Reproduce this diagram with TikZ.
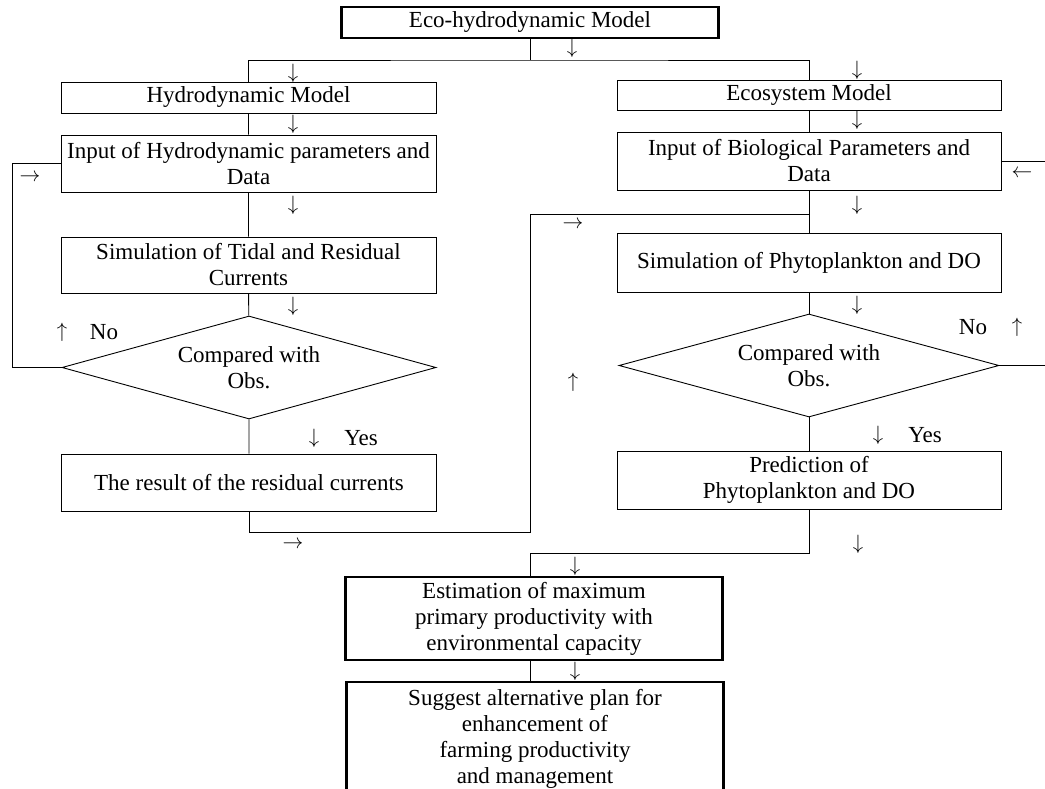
\documentclass[tikz,border=0pt]{standalone}
\usepackage{fontspec}
\setmainfont{Liberation Serif}
\usetikzlibrary{shapes.geometric}

\begin{document}
\begin{tikzpicture}[x=1pt,y=-1pt,line width=0.9pt,font=\fontsize{23}{26}\selectfont]
  \tikzstyle{block} = [draw, minimum width=375pt, inner sep=2pt, align=center];
  \tikzstyle{bigblock} = [draw, line width=2.2pt, minimum width=377pt, inner sep=2pt, align=center];
  \tikzstyle{decide} = [diamond, draw, aspect=3.6, inner sep=0pt, align=center, minimum width=374pt, minimum height=103pt];
  \tikzstyle{arr} = [inner sep=0pt, font=\fontsize{21}{21}\selectfont];
  \tikzstyle{lbl} = [inner sep=0pt];

  \useasboundingbox (0,0) rectangle (1045,789);

  \node[bigblock, minimum height=31pt] (top) at (530,22.5) {Eco-hydrodynamic Model};

  % left column
  \node[block, minimum height=31pt] (hydro) at (248.5,97.5) {Hydrodynamic Model};
  \node[block, minimum height=57pt] (inhydro) at (248.5,163.5) {Input of Hydrodynamic parameters and\\Data};
  \node[block, minimum height=56pt] (simtide) at (248.5,265) {Simulation of Tidal and Residual\\Currents};
  \node[decide] (cmpL) at (249,367.5) {Compared with\\Obs.};
  \node[block, minimum height=57pt] (result) at (249,482.5) {The result of the residual currents};

  % right column
  \node[block, minimum width=384pt, minimum height=30pt] (eco) at (809,95) {Ecosystem Model};
  \node[block, minimum width=384pt, minimum height=58pt] (inbio) at (809,161) {Input of Biological Parameters and\\Data};
  \node[block, minimum width=384pt, minimum height=59pt] (simphy) at (809,262.5) {Simulation of Phytoplankton and DO};
  \node[decide, minimum width=380pt] (cmpR) at (809,365.5) {Compared with\\Obs.};
  \node[block, minimum width=384pt, minimum height=58pt] (pred) at (809,480) {Prediction of\\Phytoplankton and DO};

  % bottom
  \node[bigblock, minimum height=83pt] (est) at (534,618.5) {Estimation of maximum\\primary productivity with\\environmental capacity};
  \node[bigblock, minimum height=114pt] (sugg) at (535,739) {Suggest alternative plan for\\enhancement of\\farming productivity\\and management};

  \coordinate (split) at (530,60);
  \coordinate (fbL) at (12,0);
  \coordinate (fbR) at (1047,0);
  \coordinate (res1) at (530,532);
  \coordinate (res2) at (530,214);
  \coordinate (pre1) at (530,553);

  \draw (top.south) -- (split);
  \draw (hydro.north) |- (split) -| (eco.north);
  \draw (hydro) -- (inhydro) -- (simtide) -- (cmpL) -- (result);
  \draw (eco) -- (inbio) -- (simphy) -- (cmpR) -- (pred);
  \draw (cmpL.west) -| (fbL |- inhydro.west) -- (inhydro.west);
  \draw (cmpR.east) -| (fbR |- inbio.east) -- (inbio.east);
  \draw (result.south) |- (res1) -- (res2) -- (res2 -| simphy.north);
  \draw (pred.south) |- (pre1) -- (pre1 |- est.north);
  \draw (pre1 |- est.south) -- (pre1 |- sugg.north);

  % arrow marks
  \node[arr] (dtop) at (572,48) {$\downarrow$};
  \node[arr] (dl1) at (293,73) {$\downarrow$};
  \node[arr] (dl2) at (293,124) {$\downarrow$};
  \node[arr] (dl3) at (293,205) {$\downarrow$};
  \node[arr] (dl4) at (293,306) {$\downarrow$};
  \node[arr] (dyesL) at (314,438) {$\downarrow$};
  \node[lbl] (yesL) at (361,438) {Yes};
  \node[arr] (unoL) at (62,332) {$\uparrow$};
  \node[lbl] (noL) at (104,332) {No};
  \node[arr] (rfbL) at (30,178) {$\rightarrow$};
  \node[arr] (rres) at (293,545) {$\rightarrow$};
  \node[arr] (dr1) at (857,70) {$\downarrow$};
  \node[arr] (dr2) at (857,120) {$\downarrow$};
  \node[arr] (dr3) at (857,205) {$\downarrow$};
  \node[arr] (dr4) at (857,305) {$\downarrow$};
  \node[arr] (dyesR) at (878,435) {$\downarrow$};
  \node[lbl] (yesR) at (925,435) {Yes};
  \node[lbl] (noR) at (973,327) {No};
  \node[arr] (unoR) at (1017,327) {$\uparrow$};
  \node[arr] (lfbR) at (1022,174) {$\leftarrow$};
  \node[arr] (rmid) at (573,225) {$\rightarrow$};
  \node[arr] (umid) at (573,382) {$\uparrow$};
  \node[arr] (dpred) at (858,544) {$\downarrow$};
  \node[arr] (dest1) at (575,566) {$\downarrow$};
  \node[arr] (dest2) at (575,671) {$\downarrow$};

\end{tikzpicture}
\end{document}
